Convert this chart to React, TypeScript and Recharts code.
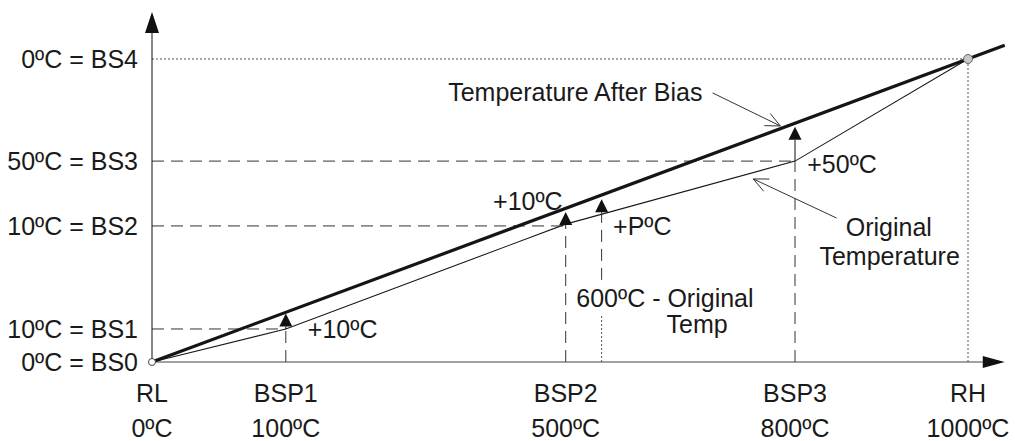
import React from 'react';
import { ComposedChart, Line, XAxis, YAxis, ReferenceLine, ReferenceDot } from 'recharts';

// diagram units: RL = 0 .. RH = 1000 across, BS0 = 0 .. BS4 = 1000 up
const xPos = [0, 164, 507, 788, 1000];
const xNames = ['RL', 'BSP1', 'BSP2', 'BSP3', 'RH'];
const xTemps = ['0ºC', '100ºC', '500ºC', '800ºC', '1000ºC'];

const yPos = [0, 109, 449, 663, 1000];
const yNames = ['0ºC = BS0', '10ºC = BS1', '10ºC = BS2', '50ºC = BS3', '0ºC = BS4'];

// temperature curves
const afterBiasX = [0, 1045];
const afterBiasY = [0, 1045];
const originalX = [0, 164, 507, 788, 1000];
const originalY = [0, 109, 455, 663, 1000];

// bias arrows: from the original curve up to the biased one
const biasX = [164, 507, 551, 788];
const biasFrom = [109, 455, 490, 663];
const biasTo = [160, 495, 537, 776];

const afterBias = afterBiasX.map((x, i) => ({ x, y: afterBiasY[i] }));
const original = originalX.map((x, i) => ({ x, y: originalY[i] }));

const FONT = '"Liberation Sans", Arial, Helvetica, sans-serif';
const INK = '#1a1a1a';

const notes = [
  { text: 'Temperature After Bias', x: 363, y: 861, anchor: 'start' },
  { text: '+10ºC', x: 418, y: 502, anchor: 'start' },
  { text: '+PºC', x: 565, y: 419, anchor: 'start' },
  { text: '600ºC - Original', x: 520, y: 182, anchor: 'start' },
  { text: 'Temp', x: 668, y: 96, anchor: 'middle' },
  { text: '+10ºC', x: 191, y: 79, anchor: 'start' },
  { text: '+50ºC', x: 803, y: 624, anchor: 'start' },
  { text: 'Original', x: 903, y: 416, anchor: 'middle' },
  { text: 'Temperature', x: 904, y: 320, anchor: 'middle' },
];

// leader lines: tail -> tip
const leaders = [
  [{ x: 687, y: 888 }, { x: 770, y: 779 }],
  [{ x: 839, y: 475 }, { x: 737, y: 604 }],
];

const filledArrow = (len: number, half: number, color: string) => (p: any) => {
  const { x1, y1, x2, y2 } = p;
  const a = Math.atan2(y2 - y1, x2 - x1);
  const bx = x2 - len * Math.cos(a);
  const by = y2 - len * Math.sin(a);
  const nx = -Math.sin(a) * half;
  const ny = Math.cos(a) * half;
  return (
    <g>
      <line x1={x1} y1={y1} x2={bx} y2={by} stroke={color} strokeWidth={1} />
      <polygon points={`${x2},${y2} ${bx + nx},${by + ny} ${bx - nx},${by - ny}`} fill="#111" />
    </g>
  );
};

const openArrow = (p: any) => {
  const { x1, y1, x2, y2 } = p;
  const a = Math.atan2(y1 - y2, x1 - x2);
  const len = 16;
  const t = (25 * Math.PI) / 180;
  return (
    <g stroke="#333" strokeWidth={1}>
      <line x1={x1} y1={y1} x2={x2} y2={y2} />
      <line x1={x2} y1={y2} x2={x2 + len * Math.cos(a + t)} y2={y2 + len * Math.sin(a + t)} />
      <line x1={x2} y1={y2} x2={x2 + len * Math.cos(a - t)} y2={y2 + len * Math.sin(a - t)} />
    </g>
  );
};

const XTick = (p: any) => {
  const i = xPos.indexOf(p.payload.value);
  return (
    <g fontFamily={FONT} fontSize={25} fill={INK}>
      <text x={p.x} y={p.y + 40} textAnchor="middle">{xNames[i]}</text>
      <text x={p.x} y={p.y + 75} textAnchor="middle">{xTemps[i]}</text>
    </g>
  );
};

const YTick = (p: any) => {
  const i = yPos.indexOf(p.payload.value);
  return (
    <text x={p.x} y={p.y + 9} textAnchor="end" fontFamily={FONT} fontSize={25} fill={INK}>
      {yNames[i]}
    </text>
  );
};

export default function App() {
  return (
    <div style={{ position: 'absolute', left: 0, top: 0, background: '#fff' }}>
      <ComposedChart width={1015} height={441} margin={{ top: 10.5, right: 6.2, bottom: 0, left: 0 }}>
        <XAxis
          type="number"
          dataKey="x"
          domain={[0, 1050]}
          allowDataOverflow
          ticks={xPos}
          interval={0}
          height={79}
          axisLine={false}
          tickLine={false}
          tickSize={0}
          tickMargin={0}
          tick={<XTick />}
        />
        <YAxis
          type="number"
          dataKey="y"
          domain={[0, 1160]}
          allowDataOverflow
          ticks={yPos}
          interval={0}
          width={152}
          axisLine={false}
          tickLine={false}
          tickSize={0}
          tickMargin={14}
          tick={<YTick />}
        />

        {/* guides from each bias level across to its break point, and down */}
        {yPos.slice(1).map((y, k) => (
          <ReferenceLine
            key={'h' + k}
            segment={[{ x: 0, y }, { x: xPos[k + 1], y }]}
            stroke={k === 3 ? '#555' : '#333'}
            strokeDasharray={k === 3 ? '2 2' : '12 7'}
          />
        ))}
        {xPos.slice(1).map((x, k) => (
          <ReferenceLine
            key={'v' + k}
            segment={[{ x, y: 0 }, { x, y: originalY[k + 1] }]}
            stroke={k === 3 ? '#555' : '#333'}
            strokeDasharray={k === 3 ? '2 2' : '12 7'}
          />
        ))}
        <ReferenceLine segment={[{ x: 551, y: 271 }, { x: 551, y: 490 }]} stroke="#333" strokeDasharray="12 7" />
        <ReferenceLine segment={[{ x: 551, y: 0 }, { x: 551, y: 155 }]} stroke="#555" strokeDasharray="2 2" />

        {/* axes with arrow heads */}
        <ReferenceLine segment={[{ x: 0, y: 0 }, { x: 0, y: 1155 }]} shape={filledArrow(21, 7, '#111')} />
        <ReferenceLine segment={[{ x: 0, y: 0 }, { x: 1045, y: 0 }]} shape={filledArrow(22, 6, '#444')} />

        <Line data={original} dataKey="y" type="linear" stroke="#1a1a1a" strokeWidth={1.1} dot={false} activeDot={false} isAnimationActive={false} />
        <Line data={afterBias} dataKey="y" type="linear" stroke="#151515" strokeWidth={3.2} dot={false} activeDot={false} isAnimationActive={false} />

        {biasX.map((x, k) => (
          <ReferenceLine
            key={'b' + k}
            segment={[{ x, y: biasFrom[k] }, { x, y: biasTo[k] }]}
            shape={filledArrow(13, 6.5, '#111')}
          />
        ))}

        {leaders.map((seg, k) => (
          <ReferenceLine key={'l' + k} segment={seg} shape={openArrow} />
        ))}

        <ReferenceDot x={0} y={0} r={3.5} fill="#fff" stroke="#444" strokeWidth={1} />
        <ReferenceDot x={1000} y={1000} r={4.5} fill="#c8c8c8" stroke="#666" strokeWidth={1} />

        {notes.map((n, k) => (
          <ReferenceDot
            key={'n' + k}
            x={n.x}
            y={n.y}
            r={1}
            shape={(p: any) => (
              <text x={p.cx} y={p.cy} textAnchor={n.anchor as any} fontFamily={FONT} fontSize={25} fill={INK}>
                {n.text}
              </text>
            )}
          />
        ))}
      </ComposedChart>
    </div>
  );
}
